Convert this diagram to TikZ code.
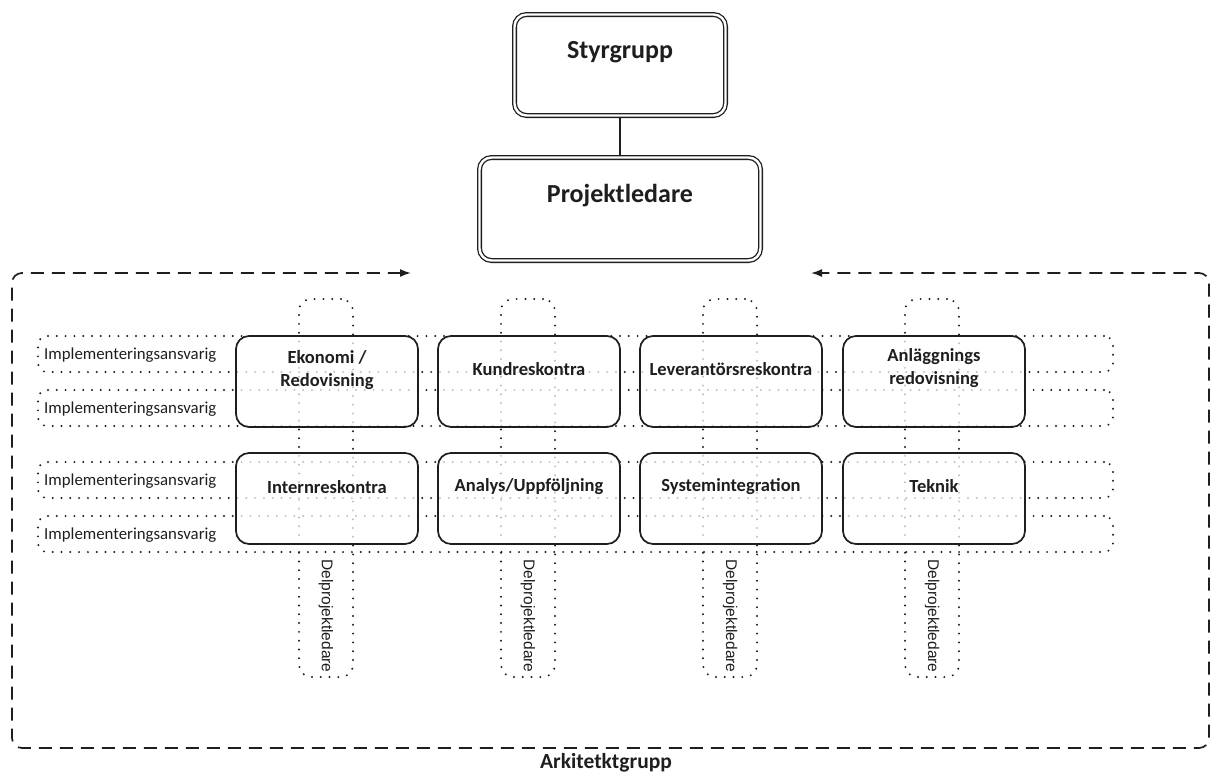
\documentclass[tikz,border=0pt]{standalone}
\usepackage{fontspec}
\setmainfont{Carlito}
\newfontfamily\arialf{Liberation Sans}
\usetikzlibrary{arrows.meta}
\definecolor{ink}{HTML}{1E1E1E}
\begin{document}
\begin{tikzpicture}[x=1pt,y=-1pt,
  dbox/.style={draw=ink, line width=1.3pt, double=white, double distance=2.4pt, rounded corners=12pt, fill=white, inner sep=0pt},
  orgbox/.style={draw=ink, line width=1.7pt, rounded corners=13pt, fill=white, fill opacity=0.72, minimum width=182pt, minimum height=91pt, inner sep=0pt},
  dots/.style={draw=ink, line width=2.2pt, line cap=round, dash pattern=on 0pt off 8.8pt},
  hband/.style={dots, rounded corners=9pt, minimum width=1075pt, minimum height=36pt, inner sep=0pt},
  vband/.style={dots, rounded corners=12pt, minimum width=54pt, minimum height=378pt, inner sep=0pt},
  framepath/.style={draw=ink, line width=1.7pt, dash pattern=on 13pt off 8pt, rounded corners=10pt},
  btext/.style={font=\bfseries\fontsize{18.5}{23}\selectfont, text=ink, align=center, inner sep=0pt},
  ttext/.style={font=\bfseries\fontsize{26}{30}\selectfont, text=ink, inner sep=0pt},
  ltext/.style={font=\fontsize{16.8}{18}\selectfont, text=ink, inner sep=0pt, anchor=west},
  dtext/.style={font=\arialf\fontsize{15.5}{17}\selectfont, text=ink, inner sep=0pt, rotate=-90}
]
\useasboundingbox (0,0) rectangle (1216,774);

% top boxes
\node[dbox, minimum width=211pt, minimum height=101pt] (sty) at (620,65) {};
\node[ttext] (styt) at (620,52) {Styrgrupp};
\node[dbox, minimum width=281pt, minimum height=103pt] (proj) at (620,209) {};
\node[ttext] (projt) at (620,196) {Projektledare};
\draw[ink, line width=1.4pt, shorten <=1.2pt, shorten >=1.2pt] (sty.south) -- (proj.north);

% frame
\coordinate (fl) at (411,273);
\coordinate (fr) at (811,273);
\draw[framepath, {Latex[length=11pt,width=8pt]}-{Latex[length=11pt,width=8pt]}]
  (fl) -- (12,273) -- (12,748) -- (1209,748) -- (1209,273) -- (fr);
\node[font=\bfseries\fontsize{21.5}{24}\selectfont, text=ink, inner sep=0pt] (ark) at (606,763) {Arkitetktgrupp};

% horizontal bands
\node[hband] (h1) at (575.5,354) {};
\node[hband] (h2) at (575.5,408) {};
\node[hband] (h3) at (575.5,480) {};
\node[hband] (h4) at (575.5,534) {};
\node[ltext] (l1) at (44,355) {Implementeringsansvarig};
\node[ltext] (l2) at (44,409) {Implementeringsansvarig};
\node[ltext] (l3) at (44,481) {Implementeringsansvarig};
\node[ltext] (l4) at (44,535) {Implementeringsansvarig};

% vertical bands
\foreach \i/\cx in {1/326,2/528,3/730,4/932}{
  \node[vband] (v\i) at (\cx,488) {};
  \node[dtext] (d\i) at (\cx,616) {Delprojektledare};
}

% boxes
\node[orgbox] (b11) at (327,381.5) {};
\node[orgbox] (b12) at (529,381.5) {};
\node[orgbox] (b13) at (731,381.5) {};
\node[orgbox] (b14) at (934,381.5) {};
\node[orgbox] (b21) at (327,498.5) {};
\node[orgbox] (b22) at (529,498.5) {};
\node[orgbox] (b23) at (731,498.5) {};
\node[orgbox] (b24) at (934,498.5) {};

\node[btext] (t11) at (327,370) {Ekonomi /\\Redovisning};
\node[btext] (t12) at (529,369) {Kundreskontra};
\node[btext] (t13) at (731,369) {Leverantörsreskontra};
\node[btext] (t14) at (934,368) {Anläggnings\\redovisning};
\node[btext] (t21) at (327,487) {Internreskontra};
\node[btext] (t22) at (529,487) {Analys/Uppföljning};
\node[btext] (t23) at (731,487) {Systemintegration};
\node[btext] (t24) at (934,486) {Teknik};
\end{tikzpicture}
\end{document}
